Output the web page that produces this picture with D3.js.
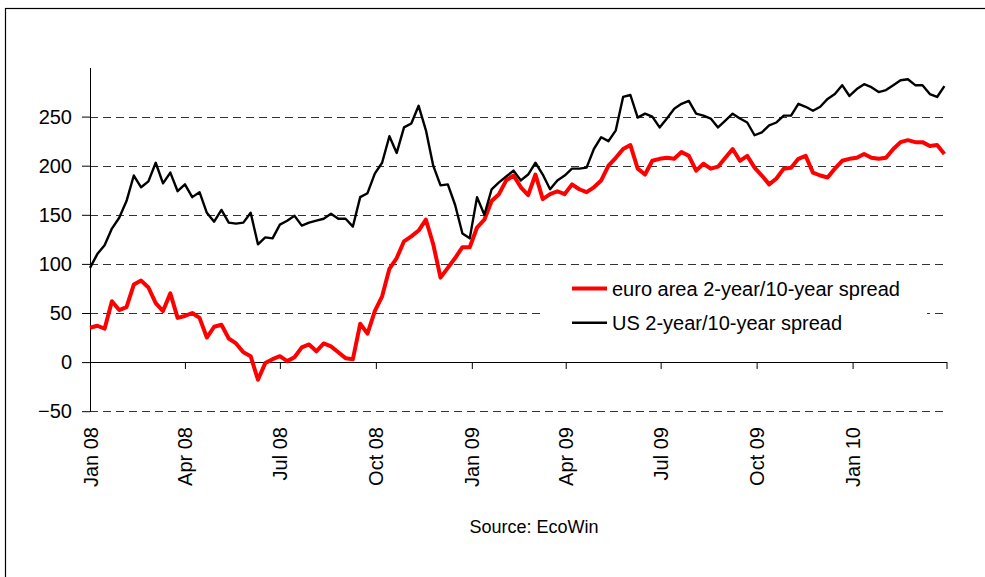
<!DOCTYPE html>
<html>
<head>
<meta charset="utf-8">
<script src="https://cdn.jsdelivr.net/npm/d3@7"></script>
<style>
body { margin: 0; background: #fff; }
svg { display: block; font-family: "Liberation Sans", Arial, sans-serif; }
</style>
</head>
<body>
<div id="chart"></div>
<script>
// weekly readings, first one on 1 Jan 2008
const startDate = new Date(2008, 0, 1);

const euroSpread = [
  35, 37, 34, 62, 53, 56, 79, 83, 76, 60, 52, 70, 45, 47, 50, 45, 25, 36, 38, 24,
  19, 10, 6, -18, -1, 3, 6, 1, 5, 15, 18, 11, 19, 16, 10, 4, 3, 39, 29, 52,
  67, 95, 106, 123, 128, 134, 145, 120, 86, 96, 106, 117, 117, 137, 145, 164, 171, 185, 190, 178,
  170, 191, 166, 171, 174, 171, 181, 176, 173, 178, 185, 200, 208, 217, 221, 197, 191, 205, 207, 208,
  207, 214, 210, 195, 202, 197, 199, 208, 217, 205, 210, 198, 190, 181, 187, 197, 198, 207, 210, 193,
  190, 188, 197, 205, 207, 208, 212, 208, 207, 208, 217, 224, 226, 224, 224, 220, 221, 212
];

const usSpread = [
  96, 110, 119, 136, 147, 164, 190, 178, 184, 203, 182, 193, 174, 181, 168, 173, 152, 143, 155, 142,
  141, 142, 152, 120, 127, 126, 140, 144, 149, 139, 142, 144, 146, 151, 146, 146, 138, 168, 172, 192,
  203, 230, 213, 239, 243, 261, 236, 200, 180, 181, 160, 131, 126, 168, 150, 176, 183, 189, 195, 185,
  191, 203, 191, 176, 185, 190, 197, 197, 198, 217, 229, 225, 236, 270, 272, 249, 253, 250, 239, 248,
  258, 263, 266, 253, 251, 248, 239, 246, 253, 248, 244, 231, 234, 241, 244, 251, 251, 263, 260, 256,
  260, 268, 273, 282, 271, 278, 283, 280, 275, 277, 282, 287, 288, 282, 282, 273, 270, 281
];

const seriesNames = ['euro area 2-year/10-year spread', 'US 2-year/10-year spread'];
const yTicks = [-50, 0, 50, 100, 150, 200, 250];
const xTickDates = ['2008-01-01', '2008-04-01', '2008-07-01', '2008-10-01', '2009-01-01',
  '2009-04-01', '2009-07-01', '2009-10-01', '2010-01-01', '2010-04-01'];
const xTickLabels = ['Jan 08', 'Apr 08', 'Jul 08', 'Oct 08', 'Jan 09',
  'Apr 09', 'Jul 09', 'Oct 09', 'Jan 10', ''];

const width = 985;
const height = 577;

const parse = d3.timeParse('%Y-%m-%d');
const weeks = d3.range(euroSpread.length).map(i => d3.timeDay.offset(startDate, 7 * i));

const x = d3.scaleTime()
  .domain([parse(xTickDates[0]), parse(xTickDates[xTickDates.length - 1])])
  .range([90, 946.5]);

const y = d3.scaleLinear()
  .domain([-50, 300])
  .range([411.2, 67.5]);

const svg = d3.select('#chart').append('svg')
  .attr('width', width)
  .attr('height', height);

// outer frame
svg.append('rect')
  .attr('x', 5.5).attr('y', 8.5)
  .attr('width', 1000).attr('height', 600)
  .attr('fill', '#fff')
  .attr('stroke', '#000')
  .attr('stroke-width', 1.2);

// dashed gridlines
svg.append('g').selectAll('line')
  .data(yTicks.filter(d => d !== 0))
  .enter().append('line')
  .attr('x1', 90).attr('x2', 944)
  .attr('y1', d => Math.round(y(d)) + 0.5)
  .attr('y2', d => Math.round(y(d)) + 0.5)
  .attr('stroke', '#333')
  .attr('stroke-width', 1)
  .attr('stroke-dasharray', '8,5');

// y axis
const yAxis = d3.axisLeft(y)
  .tickValues(yTicks)
  .tickSize(8)
  .tickSizeOuter(0)
  .tickPadding(10);
const gy = svg.append('g')
  .attr('transform', 'translate(90,0)')
  .call(yAxis);
gy.select('.domain').attr('stroke', '#000');
gy.selectAll('.tick line').attr('stroke', '#000');
gy.selectAll('.tick text')
  .attr('font-size', 20)
  .attr('font-family', '"Liberation Sans", Arial, sans-serif')
  .attr('fill', '#000');

// x axis on the zero line
const xAxis = d3.axisBottom(x)
  .tickValues(xTickDates.map(parse))
  .tickSize(7)
  .tickSizeOuter(0)
  .tickFormat((d, i) => xTickLabels[i]);
const gx = svg.append('g')
  .attr('transform', `translate(0,${Math.round(y(0))})`)
  .call(xAxis);
gx.select('.domain').attr('stroke', '#000');
gx.selectAll('.tick line').attr('stroke', '#000');
gx.selectAll('.tick text')
  .attr('font-size', 20)
  .attr('font-family', '"Liberation Sans", Arial, sans-serif')
  .attr('fill', '#000')
  .attr('text-anchor', 'end')
  .attr('y', 0)
  .attr('dy', '0.35em')
  .attr('transform', `translate(0,${427 - Math.round(y(0))}) rotate(-90)`);

// lines
const line = d3.line()
  .x((d, i) => x(weeks[i]))
  .y(d => y(d));

svg.append('path')
  .datum(euroSpread)
  .attr('fill', 'none')
  .attr('stroke', '#ff0000')
  .attr('stroke-width', 4)
  .attr('stroke-linejoin', 'round')
  .attr('d', line);

svg.append('path')
  .datum(usSpread)
  .attr('fill', 'none')
  .attr('stroke', '#000')
  .attr('stroke-width', 2.4)
  .attr('stroke-linejoin', 'round')
  .attr('d', line);

// legend
const legend = svg.append('g');
legend.append('rect')
  .attr('x', 543).attr('y', 272)
  .attr('width', 384).attr('height', 70)
  .attr('fill', '#fff');

const legendItems = [
  { name: seriesNames[0], color: '#ff0000', w: 4, ly: 288.5 },
  { name: seriesNames[1], color: '#000', w: 2.5, ly: 322.7 }
];
const items = legend.selectAll('g.item')
  .data(legendItems)
  .enter().append('g')
  .classed('item', true);
items.append('line')
  .attr('x1', 572).attr('x2', 607)
  .attr('y1', d => d.ly).attr('y2', d => d.ly)
  .attr('stroke', d => d.color)
  .attr('stroke-width', d => d.w);
items.append('text')
  .attr('x', 612)
  .attr('y', d => d.ly + 7.7)
  .attr('font-size', 20)
  .text(d => d.name);

// source note
svg.append('text')
  .attr('x', 534)
  .attr('y', 533)
  .attr('text-anchor', 'middle')
  .attr('font-size', 18)
  .text('Source: EcoWin');
</script>
</body>
</html>
